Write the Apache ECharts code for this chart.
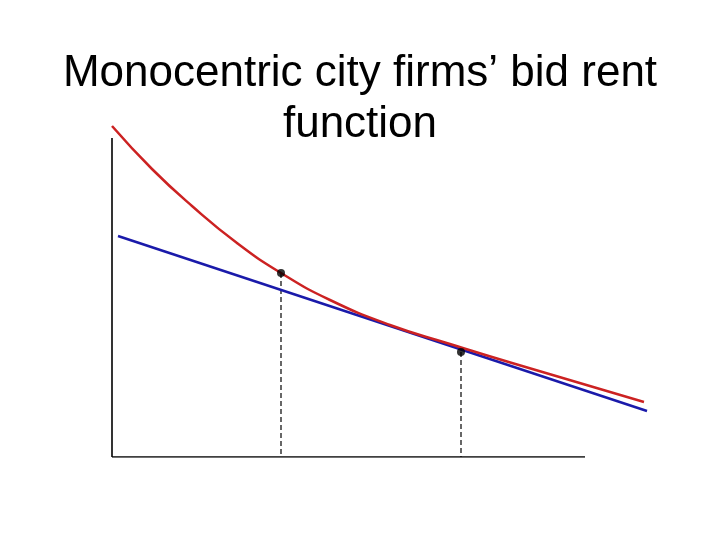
<!DOCTYPE html>
<html>
<head>
<meta charset="utf-8">
<script src="https://cdn.jsdelivr.net/npm/echarts@6/dist/echarts.min.js"></script>
<style>
  html, body { margin: 0; padding: 0; background: #fff; }
  #chart { width: 720px; height: 540px; }
</style>
</head>
<body>
<div id="chart"></div>
<script>
// bid rent curve (distance, rent)
const bidRent = [[0, 331], [40, 288], [80, 251], [125, 214], [169, 184], [218, 157],
  [278, 132], [338, 113], [400, 94], [532, 55]]
// straight-line rent
const linearRent = [[6, 221], [535, 46]]
// marked points
const points = [[169, 184], [349, 105]]
// axis extents
const axisX = [[0, 0], [473, 0]]
const axisY = [[0, 0], [0, 319]]

const chart = echarts.init(document.getElementById('chart'))

const dropLines = points.map(p => ({
  type: 'line',
  data: [[p[0], p[1]], [p[0], 0]],
  symbol: 'none',
  lineStyle: { color: '#000', width: 1.2, type: [5, 3] },
  z: 1
}))

chart.setOption({
  animation: false,
  title: {
    text: 'Monocentric city firms’ bid rent\nfunction',
    left: 'center',
    top: 43,
    textStyle: {
      fontFamily: 'Liberation Sans',
      fontSize: 44,
      fontWeight: 'normal',
      color: '#000',
      lineHeight: 51
    }
  },
  grid: { left: 112, right: 48, top: 100, bottom: 83 },
  xAxis: { type: 'value', min: 0, max: 560, show: false },
  yAxis: { type: 'value', min: 0, max: 357, show: false },
  series: [
    ...dropLines,
    {
      type: 'line',
      data: axisX,
      symbol: 'none',
      lineStyle: { color: '#000', width: 1.6 },
      z: 2
    },
    {
      type: 'line',
      data: axisY,
      symbol: 'none',
      lineStyle: { color: '#000', width: 1.6 },
      z: 2
    },
    {
      type: 'line',
      data: linearRent,
      symbol: 'none',
      lineStyle: { color: '#1a1aaa', width: 2.5 },
      z: 3
    },
    {
      type: 'line',
      data: bidRent,
      smooth: 0.5,
      symbol: 'none',
      lineStyle: { color: '#cc2222', width: 2.5 },
      z: 4
    },
    {
      type: 'scatter',
      data: points,
      symbolSize: 8,
      itemStyle: { color: '#000' },
      z: 5
    }
  ]
})
</script>
</body>
</html>
